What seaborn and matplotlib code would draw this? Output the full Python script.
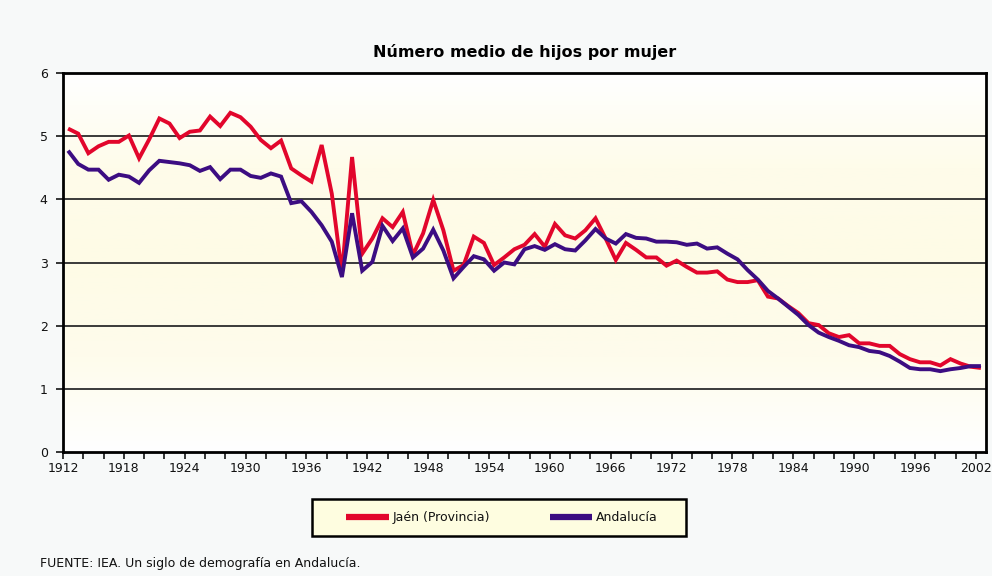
import numpy as np
import pandas as pd
import matplotlib
matplotlib.use("Agg")
import matplotlib.pyplot as plt
from matplotlib.colors import LinearSegmentedColormap
from matplotlib.patches import Rectangle
import seaborn as sns

# Total fertility rate (children per woman), 1912-2002
years = list(range(1912, 2003))

jaen = [
    5.12, 5.04, 4.73, 4.84, 4.91, 4.91, 5.01, 4.65, 4.95, 5.28,
    5.20, 4.97, 5.07, 5.09, 5.31, 5.16, 5.37, 5.30, 5.15, 4.94,
    4.81, 4.93, 4.49, 4.38, 4.28, 4.86, 4.09, 2.83, 4.67, 3.14,
    3.38, 3.70, 3.56, 3.80, 3.12, 3.46, 3.99, 3.51, 2.87, 2.96,
    3.41, 3.31, 2.96, 3.08, 3.21, 3.28, 3.45, 3.25, 3.61, 3.43,
    3.38, 3.51, 3.70, 3.38, 3.04, 3.31, 3.20, 3.08, 3.08, 2.95,
    3.03, 2.93, 2.84, 2.84, 2.86, 2.73, 2.69, 2.69, 2.72, 2.46,
    2.43, 2.31, 2.20, 2.04, 2.01, 1.88, 1.82, 1.85, 1.72, 1.72,
    1.68, 1.68, 1.55, 1.47, 1.42, 1.42, 1.37, 1.47, 1.40, 1.35,
    1.33,
]

andalucia = [
    4.77, 4.56, 4.47, 4.47, 4.31, 4.39, 4.36, 4.26, 4.46, 4.61,
    4.59, 4.57, 4.54, 4.45, 4.51, 4.32, 4.47, 4.47, 4.37, 4.34,
    4.41, 4.36, 3.94, 3.97, 3.80, 3.59, 3.33, 2.77, 3.78, 2.87,
    3.01, 3.58, 3.34, 3.54, 3.08, 3.22, 3.52, 3.19, 2.75, 2.93,
    3.10, 3.05, 2.87, 3.00, 2.97, 3.21, 3.26, 3.20, 3.29, 3.21,
    3.19, 3.35, 3.53, 3.38, 3.30, 3.45, 3.39, 3.38, 3.33, 3.33,
    3.32, 3.28, 3.30, 3.22, 3.24, 3.14, 3.05, 2.88, 2.73, 2.55,
    2.43, 2.30, 2.17, 2.01, 1.89, 1.82, 1.76, 1.69, 1.66, 1.60,
    1.58, 1.52, 1.43, 1.33, 1.31, 1.31, 1.28, 1.31, 1.33, 1.36,
    1.36,
]

series_names = ["Jaén (Provincia)", "Andalucía"]
series_colors = ["#e2062c", "#3c0d82"]
y_ticks = [0, 1, 2, 3, 4, 5, 6]
label_years = list(range(1912, 2003, 6))

title = "Número medio de hijos por mujer"
source = "FUENTE: IEA. Un siglo de demografía en Andalucía."

df = pd.DataFrame({"year": years, series_names[0]: jaen, series_names[1]: andalucia})
long = df.melt(id_vars="year", var_name="serie", value_name="tasa")

sns.set_theme(style="white")
plt.rcParams["font.family"] = ["DejaVu Sans"]

W, H = 992, 576
fig = plt.figure(figsize=(W / 100, H / 100), dpi=100)
fig.patch.set_facecolor("#f7f9f9")

x0, x1, y0, y1 = 63, 986, 73, 452
ax = fig.add_axes([x0 / W, 1 - y1 / H, (x1 - x0) / W, (y1 - y0) / H])

# soft vertical gradient behind the plot area
grad = LinearSegmentedColormap.from_list(
    "bg", ["#ffffff", "#fefcea", "#fefbe6", "#fefcec", "#ffffff"])
ax.imshow(np.linspace(0, 1, 256).reshape(-1, 1), cmap=grad, aspect="auto",
          extent=[1911.5, 2002.5, 0, 6], origin="upper", zorder=0)

for yv in y_ticks[1:-1]:
    ax.axhline(yv, color="#3a3a3a", lw=1.4, zorder=1)

sns.lineplot(data=long, x="year", y="tasa", hue="serie", palette=series_colors,
             hue_order=series_names, linewidth=2.8, ax=ax, legend=False, zorder=3,
             solid_joinstyle="miter", solid_capstyle="butt")

ax.set_xlim(1911.5, 2002.5)
ax.set_ylim(0, 6)
ax.set_xlabel("")
ax.set_ylabel("")

ax.set_xticks([1911.5 + 2 * k for k in range(46)], minor=True)
ax.set_xticks([y - 0.5 for y in label_years])
ax.set_xticklabels([str(y) for y in label_years])
ax.set_yticks(y_ticks)
ax.set_yticklabels([str(v) for v in y_ticks])
ax.tick_params(axis="x", which="both", direction="out", length=5, width=1.1,
               color="black", bottom=True, labelsize=9, pad=2, labelcolor="#111111")
ax.tick_params(axis="y", direction="out", length=5, width=1.1, color="black",
               left=True, labelsize=9, pad=6, labelcolor="#111111")

for s in ax.spines.values():
    s.set_color("black")
    s.set_linewidth(2.0)
    s.set_zorder(4)

fig.text((x0 + x1) / 2 / W, 1 - 52 / H, title, ha="center", va="center",
         fontsize=11.5, fontweight="bold", color="black")

# legend box
lx0, lx1, ly0, ly1 = 312, 686, 499, 536
fig.patches.append(Rectangle((lx0 / W, 1 - ly1 / H), (lx1 - lx0) / W, (ly1 - ly0) / H,
                             transform=fig.transFigure, facecolor="#fefde0",
                             edgecolor="black", linewidth=1.8, zorder=1))
handles = [plt.Line2D([], [], color=c, lw=4.5, solid_capstyle="butt") for c in series_colors]
fig.legend(handles, series_names, loc="center",
           bbox_to_anchor=((lx0 + lx1) / 2 / W + 0.003, 1 - (ly0 + ly1) / 2 / H),
           ncol=2, frameon=False, fontsize=9, handlelength=3.4,
           handletextpad=0.3, columnspacing=4.8, labelcolor="#111111")

fig.text(40 / W, 1 - 563 / H, source, ha="left", va="center", fontsize=9, color="#111111")

fig.savefig("out.png", dpi=100, facecolor=fig.get_facecolor())
